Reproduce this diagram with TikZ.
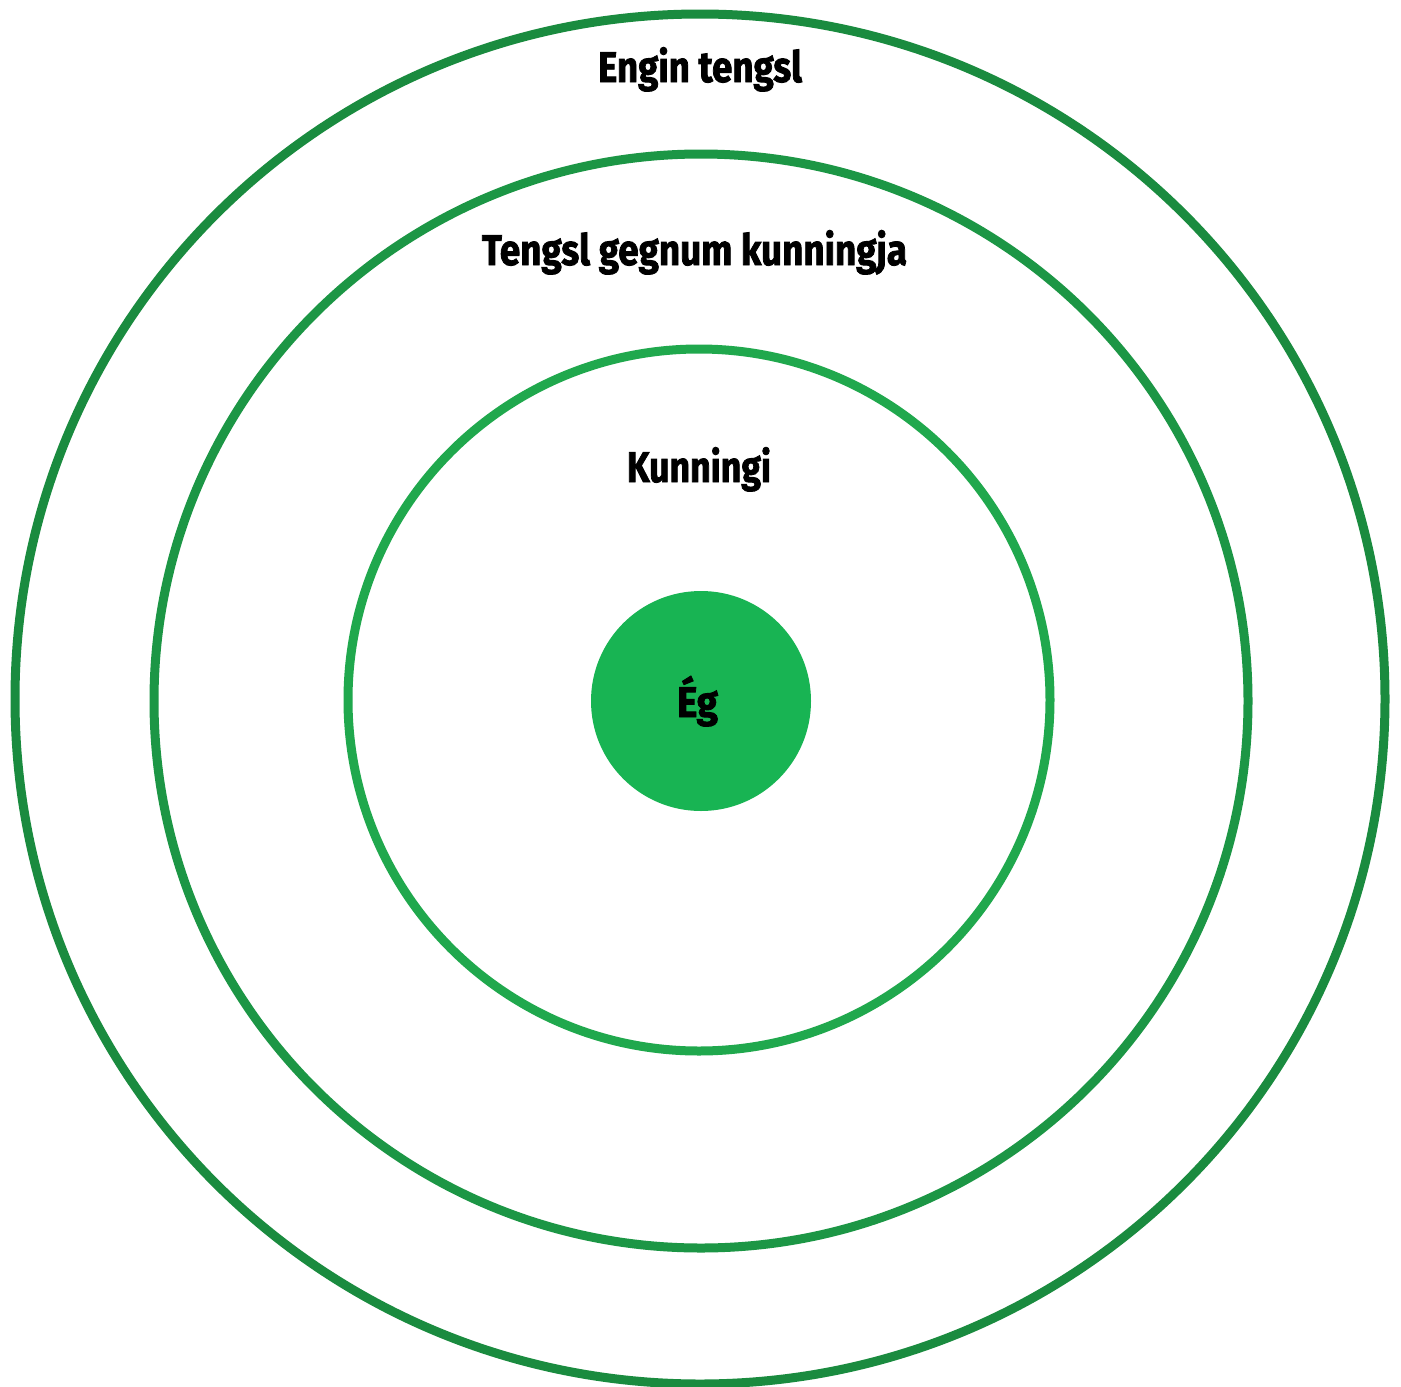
\documentclass[tikz,border=0pt]{standalone}
\usepackage{fontspec}
\usepackage{graphicx}
\setmainfont{Fira Sans}
\newfontfamily\lblfont{Fira Sans}[BoldFeatures={FakeBold=2}]
\definecolor{ringA}{HTML}{1A8B3F}
\definecolor{ringB}{HTML}{1C9645}
\definecolor{ringC}{HTML}{20A84D}
\definecolor{coreC}{HTML}{18B453}
\begin{document}
\begin{tikzpicture}[x=1pt,y=-1pt,
  ring/.style={draw,line width=9pt},
  lbl/.style={anchor=base,inner sep=0pt,font=\fontsize{43}{43}\lblfont\bfseries}]
\useasboundingbox (0,0) rectangle (1401,1387);
\fill[white] (0,0) rectangle (1401,1387);
\draw[ring,ringA] (700,699) circle[radius=685];
\draw[ring,ringB] (701,701) circle[radius=547];
\draw[ring,ringC] (699,700) circle[radius=351];
\fill[coreC] (701,701) circle[radius=110];
\node[lbl] (n1) at (700,82) {\resizebox{204pt}{\height}{Engin tengsl}};
\node[lbl] (n2) at (694.5,265) {\resizebox{425pt}{\height}{Tengsl gegnum kunningja}};
\node[lbl] (n3) at (699,482) {\resizebox{144pt}{\height}{Kunningi}};
\node[lbl] (n4) at (697.5,717) {\resizebox{41pt}{\height}{Ég}};
\end{tikzpicture}
\end{document}
